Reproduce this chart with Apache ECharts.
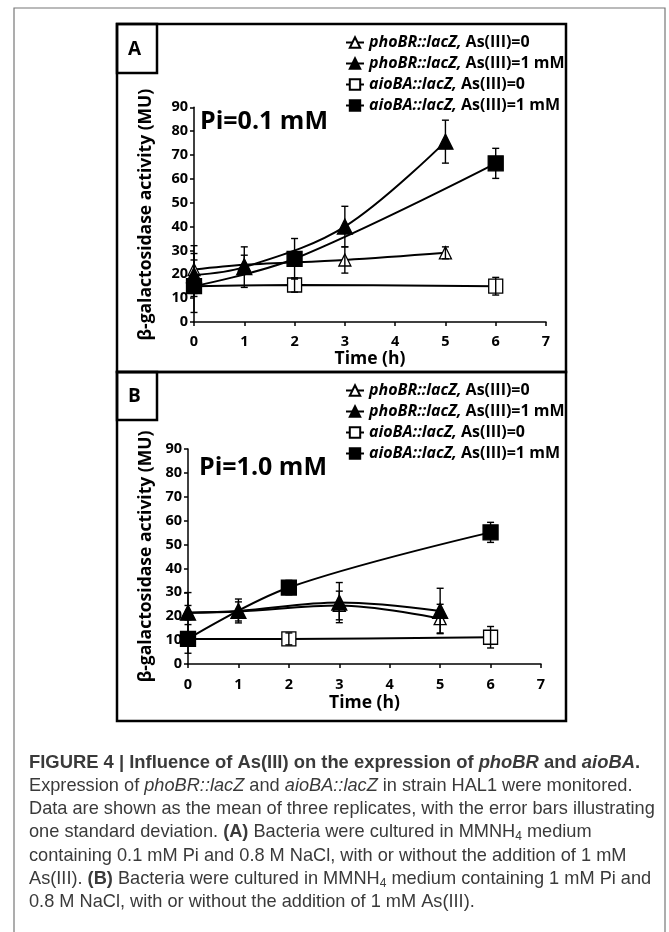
<!DOCTYPE html>
<html>
<head>
<meta charset="utf-8">
<script src="https://cdn.jsdelivr.net/npm/echarts@6/dist/echarts.min.js"></script>
<style>
  html, body { margin: 0; padding: 0; background: #fff; }
  #chart { width: 669px; height: 932px; }
</style>
</head>
<body>
<div id="chart"></div>
<script>
// time points (h)
var timePho = [0, 1, 3, 5];
var timeAio = [0, 2, 6];

// axis ticks
var xTicks = [0, 1, 2, 3, 4, 5, 6, 7];
var yTicks = [0, 10, 20, 30, 40, 50, 60, 70, 80, 90];

var seriesNames = [
  "phoBR::lacZ, As(III)=0",
  "phoBR::lacZ, As(III)=1 mM",
  "aioBA::lacZ, As(III)=0",
  "aioBA::lacZ, As(III)=1 mM"
];

// panel A, Pi = 0.1 mM  (mean, sd)
var aPho0 = [22, 24, 26, 29];
var aPho0Sd = [10, 4, 5.5, 2.5];
var aPho1 = [19.7, 23, 40, 75.6];
var aPho1Sd = [9, 8.5, 8.5, 9];
var aAio0 = [15, 15.5, 15];
var aAio0Sd = [3, 3, 3.7];
var aAio1 = [15, 26.5, 66.5];
var aAio1Sd = [11, 8.5, 6.3];

// panel B, Pi = 1.0 mM
var bPho0 = [21.5, 22, 24.5, 19];
var bPho0Sd = [3, 4, 6, 6];
var bPho1 = [21.5, 22.2, 25.7, 22.2];
var bPho1Sd = [8.4, 5, 8.4, 9.5];
var bAio0 = [10.5, 10.5, 11.2];
var bAio0Sd = [2, 2.5, 4.5];
var bAio1 = [10.5, 32, 55.1];
var bAio1Sd = [6, 3, 4.2];

var FONT = "Open Sans";
var CAP = "Liberation Sans";

function pairs(xs, ys) {
  return xs.map(function (x, i) { return [x, ys[i]]; });
}

var markers = [
  { symbol: "triangle", size: 12, fill: "#fff" },
  { symbol: "triangle", size: 15, fill: "#000" },
  { symbol: "rect", size: 14, fill: "#fff" },
  { symbol: "rect", size: 15, fill: "#000" }
];

function lineSeries(k, gi, xs, ys) {
  var m = markers[k];
  return {
    name: seriesNames[k],
    type: "line",
    xAxisIndex: gi,
    yAxisIndex: gi,
    data: pairs(xs, ys),
    smooth: 0.35,
    symbol: m.symbol,
    symbolSize: m.size,
    showAllSymbol: true,
    itemStyle: { color: m.fill, borderColor: "#000", borderWidth: 1.3 },
    lineStyle: { color: "#000", width: 2 },
    z: 2 + k * 0.1,
    animation: false
  };
}

function renderErr(params, api) {
  var x = api.value(0);
  var lo = api.coord([x, api.value(1)]);
  var hi = api.coord([x, api.value(2)]);
  var w = 3.5;
  var st = { stroke: "#000", lineWidth: 1.4 };
  return {
    type: "group",
    children: [
      { type: "line", shape: { x1: lo[0], y1: lo[1], x2: hi[0], y2: hi[1] }, style: st },
      { type: "line", shape: { x1: lo[0] - w, y1: lo[1], x2: lo[0] + w, y2: lo[1] }, style: st },
      { type: "line", shape: { x1: hi[0] - w, y1: hi[1], x2: hi[0] + w, y2: hi[1] }, style: st }
    ]
  };
}

function errSeries(gi, xs, ys, sds) {
  return {
    type: "custom",
    xAxisIndex: gi,
    yAxisIndex: gi,
    renderItem: renderErr,
    data: xs.map(function (x, i) { return [x, ys[i] - sds[i], ys[i] + sds[i]]; }),
    encode: { x: 0, y: [1, 2] },
    z: 5,
    silent: true,
    animation: false
  };
}

function xAxis(gi, gap, margin) {
  return {
    type: "value",
    gridIndex: gi,
    min: xTicks[0],
    max: xTicks[xTicks.length - 1],
    interval: xTicks[1] - xTicks[0],
    name: "Time (h)",
    nameLocation: "middle",
    nameGap: gap,
    nameTextStyle: { fontFamily: FONT, fontWeight: "bold", fontSize: 17.5, color: "#000" },
    axisLine: { show: true, onZero: false, lineStyle: { color: "#000", width: 1.5 } },
    axisTick: { show: true, length: 4, lineStyle: { color: "#000", width: 1.5 } },
    axisLabel: { margin: margin, color: "#000", fontFamily: FONT, fontWeight: "bold", fontSize: 14.5 },
    splitLine: { show: false }
  };
}

function yAxis(gi, gap) {
  return {
    type: "value",
    gridIndex: gi,
    min: yTicks[0],
    max: yTicks[yTicks.length - 1],
    interval: yTicks[1] - yTicks[0],
    name: "β-galactosidase activity (MU)",
    nameLocation: "middle",
    nameGap: gap,
    nameTextStyle: { fontFamily: FONT, fontWeight: "bold", fontSize: 17.5, color: "#000" },
    axisLine: { show: true, lineStyle: { color: "#000", width: 1.5 } },
    axisTick: { show: true, length: 4, lineStyle: { color: "#000", width: 1.5 } },
    axisLabel: { margin: 6, color: "#000", fontFamily: FONT, fontWeight: "bold", fontSize: 14.5 },
    splitLine: { show: false }
  };
}

function legend(top) {
  return {
    orient: "vertical",
    left: 340,
    top: top,
    itemWidth: 18,
    itemHeight: 13,
    itemGap: 4,
    data: seriesNames,
    formatter: function (n) {
      var k = n.indexOf(",");
      return "{i|" + n.slice(0, k + 1) + "} " + n.slice(k + 2);
    },
    textStyle: {
      fontFamily: FONT, fontWeight: "bold", fontSize: 16, color: "#000", lineHeight: 17,
      rich: { i: { fontFamily: FONT, fontWeight: "bold", fontStyle: "italic", fontSize: 16, color: "#000", lineHeight: 17 } }
    }
  };
}

function txt(x, y, text, font, extra) {
  var st = {
    text: text, font: font, fill: "#000",
    align: "left", verticalAlign: "middle",
    textAlign: "left", textVerticalAlign: "middle"
  };
  if (extra) { for (var k in extra) st[k] = extra[k]; }
  return { type: "text", x: x, y: y, style: st, z: 10 };
}

function frame(x, y, w, h, lw) {
  return {
    type: "rect",
    shape: { x: x, y: y, width: w, height: h },
    style: { fill: "none", stroke: "#000", lineWidth: lw },
    z: 10
  };
}

var capFont = "18.2px '" + CAP + "'";
var capRich = {
  b: { fontFamily: CAP, fontWeight: "bold", fontSize: 18.4, color: "#222" },
  bi: { fontFamily: CAP, fontWeight: "bold", fontStyle: "italic", fontSize: 18.4, color: "#222" },
  bb: { fontFamily: CAP, fontWeight: "bold", fontSize: 18.2, color: "#333" },
  i: { fontFamily: CAP, fontStyle: "italic", fontSize: 18.2, color: "#3a3a3a" },
  sub: { fontFamily: CAP, fontSize: 12, color: "#3a3a3a", verticalAlign: "bottom", padding: [9, 0, 0, 0] }
};
var captionLines = [
  "{b|FIGURE 4 | Influence of As(III) on the expression of }{bi|phoBR}{b| and }{bi|aioBA}{b|.}",
  "Expression of {i|phoBR::lacZ} and {i|aioBA::lacZ} in strain HAL1 were monitored.",
  "Data are shown as the mean of three replicates, with the error bars illustrating",
  "one standard deviation. {bb|(A)} Bacteria were cultured in MMNH{sub|4} medium",
  "containing 0.1 mM Pi and 0.8 M NaCl, with or without the addition of 1 mM",
  "As(III). {bb|(B)} Bacteria were cultured in MMNH{sub|4} medium containing 1 mM Pi and",
  "0.8 M NaCl, with or without the addition of 1 mM As(III)."
];
var captionY = [763, 786, 809, 832, 856, 879, 902];

var graphics = [
  {
    type: "rect",
    shape: { x: 14, y: 8, width: 651, height: 940 },
    style: { fill: "none", stroke: "#777", lineWidth: 1.2 },
    z: 0
  },
  frame(117, 24, 449, 348, 2.5),
  frame(117, 372, 449, 349, 2.5),
  frame(117, 24, 40, 49, 2.5),
  frame(117, 372, 40, 48, 2.5),
  txt(128, 50, "A", "bold 19px '" + FONT + "'"),
  txt(128, 397, "B", "bold 19px '" + FONT + "'"),
  txt(200, 122, "Pi=0.1 mM", "bold 25px '" + FONT + "'"),
  txt(199, 468, "Pi=1.0 mM", "bold 25px '" + FONT + "'")
];
captionLines.forEach(function (line, i) {
  graphics.push(txt(29, captionY[i], line, capFont, { fill: "#3a3a3a", rich: capRich }));
});

var chart = echarts.init(document.getElementById("chart"), null, { renderer: "canvas" });
chart.setOption({
  backgroundColor: "#fff",
  animation: false,
  grid: [
    { left: 194, top: 107.3, width: 352, height: 214.7 },
    { left: 188, top: 449, width: 353, height: 215 }
  ],
  xAxis: [xAxis(0, 24, 12), xAxis(1, 30, 13)],
  yAxis: [yAxis(0, 39), yAxis(1, 33)],
  legend: [legend(29), legend(377)],
  series: [
    lineSeries(0, 0, timePho, aPho0),
    lineSeries(1, 0, timePho, aPho1),
    lineSeries(2, 0, timeAio, aAio0),
    lineSeries(3, 0, timeAio, aAio1),
    errSeries(0, timePho, aPho0, aPho0Sd),
    errSeries(0, timePho, aPho1, aPho1Sd),
    errSeries(0, timeAio, aAio0, aAio0Sd),
    errSeries(0, timeAio, aAio1, aAio1Sd),
    lineSeries(0, 1, timePho, bPho0),
    lineSeries(1, 1, timePho, bPho1),
    lineSeries(2, 1, timeAio, bAio0),
    lineSeries(3, 1, timeAio, bAio1),
    errSeries(1, timePho, bPho0, bPho0Sd),
    errSeries(1, timePho, bPho1, bPho1Sd),
    errSeries(1, timeAio, bAio0, bAio0Sd),
    errSeries(1, timeAio, bAio1, bAio1Sd)
  ],
  graphic: graphics
});
window.addEventListener("resize", function () {
  chart.resize();
});
</script>
</body>
</html>
